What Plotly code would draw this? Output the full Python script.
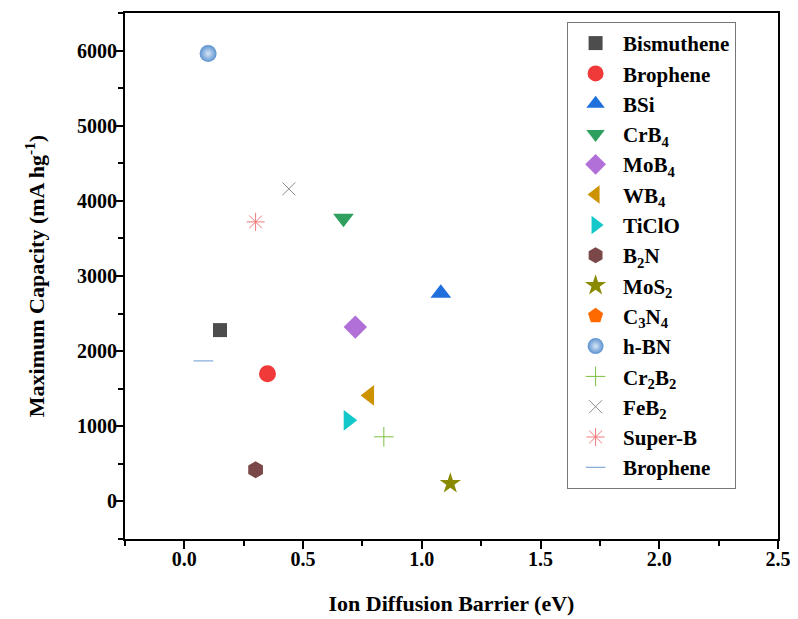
import plotly.graph_objects as go

names = ["Bismuthene", "Brophene", "BSi", "CrB<sub>4</sub>", "MoB<sub>4</sub>", "WB<sub>4</sub>",
         "TiClO", "B<sub>2</sub>N", "MoS<sub>2</sub>", "C<sub>3</sub>N<sub>4</sub>", "h-BN",
         "Cr<sub>2</sub>B<sub>2</sub>", "FeB<sub>2</sub>", "Super-B", "Brophene"]
barrier = [[0.15], [0.35], [1.08], [0.67], [0.72], [0.78], [0.69], [0.30], [1.12], [None], [0.10],
           [0.84], [0.44], [0.30], [0.08]]
capacity = [[2280], [1700], [2770], [3770], [2320], [1410], [1080], [420], [240], [None], [5960],
            [860], [4160], [3720], [1870]]

symbols = ["square", "circle", "triangle-up", "triangle-down", "diamond", "triangle-left",
           "triangle-right", "hexagon", "star", "pentagon", "circle", "cross-thin-open",
           "x-thin-open", "asterisk-open", "line-ew-open"]
colors = ["#4d4d4d", "#f03a3a", "#1f6fdc", "#2e9f5e", "#b070d8", "#cc9200", "#12c8c8",
          "#7a4848", "#8a8a00", "#ff6a00", "#5b92d0", "#7cc040", "#8a8a8a", "#f27a7a", "#6a9ad0"]
sizes = [14, 17, 18, 18, 18, 18, 18, 17, 16, 17, 17, 14, 13, 15, 14]

fig = go.Figure()
for n, xs, ys, s, c, sz in zip(names, barrier, capacity, symbols, colors, sizes):
    marker = dict(symbol=s, color=c, size=sz, line=dict(width=0))
    if s.endswith("-open"):
        marker["line"] = dict(width=1, color=c)
    if n == "h-BN":
        marker["gradient"] = dict(type="radial", color="#d8e6f6")
    fig.add_trace(go.Scatter(x=xs, y=ys, mode="markers", name="<b>" + n + "</b>", marker=marker))

font = "Liberation Serif, Times New Roman, serif"
tickfont = dict(family=font, size=20, color="black")
axis_common = dict(showline=True, linecolor="black", linewidth=2, mirror=True,
                   ticks="outside", ticklen=8, tickwidth=2, tickcolor="black",
                   showgrid=False, zeroline=False, tickfont=tickfont)

fig.update_xaxes(range=[-0.25, 2.5], tickvals=[0, 0.5, 1.0, 1.5, 2.0, 2.5],
                 ticktext=["<b>0.0</b>", "<b>0.5</b>", "<b>1.0</b>", "<b>1.5</b>", "<b>2.0</b>", "<b>2.5</b>"],
                 ticklabelstandoff=-7,
                 title=dict(text="<b>Ion Diffusion Barrier (eV)</b>", font=dict(family=font, size=22, color="black"), standoff=27),
                 minor=dict(ticks="outside", ticklen=5, tickwidth=2, tickcolor="black", showgrid=False,
                            tickvals=[-0.25, 0.25, 0.75, 1.25, 1.75, 2.25]),
                 **axis_common)
fig.update_yaxes(range=[-500, 6500], tickvals=[0, 1000, 2000, 3000, 4000, 5000, 6000],
                 ticktext=["<b>0</b>", "<b>1000</b>", "<b>2000</b>", "<b>3000</b>", "<b>4000</b>", "<b>5000</b>", "<b>6000</b>"],
                 ticklabelstandoff=-6,
                 title=dict(text="<b>Maximum Capacity (mA hg<sup>-1</sup>)</b>", font=dict(family=font, size=22, color="black"), standoff=26),
                 minor=dict(ticks="outside", ticklen=5, tickwidth=2, tickcolor="black", showgrid=False,
                            tickvals=[-500, 500, 1500, 2500, 3500, 4500, 5500, 6500]),
                 **axis_common)

fig.update_layout(
    width=790, height=611,
    margin=dict(l=117, r=20, t=5, b=80, autoexpand=False),
    plot_bgcolor="white", paper_bgcolor="white",
    legend=dict(x=0.677, y=0.983, xanchor="left", yanchor="top",
                bordercolor="#777777", borderwidth=1, bgcolor="white",
                font=dict(family=font, size=21, color="black"), tracegroupgap=0,
                itemwidth=45, entrywidth=177, entrywidthmode="pixels"),
    showlegend=True,
)

fig.write_html("out.html")
